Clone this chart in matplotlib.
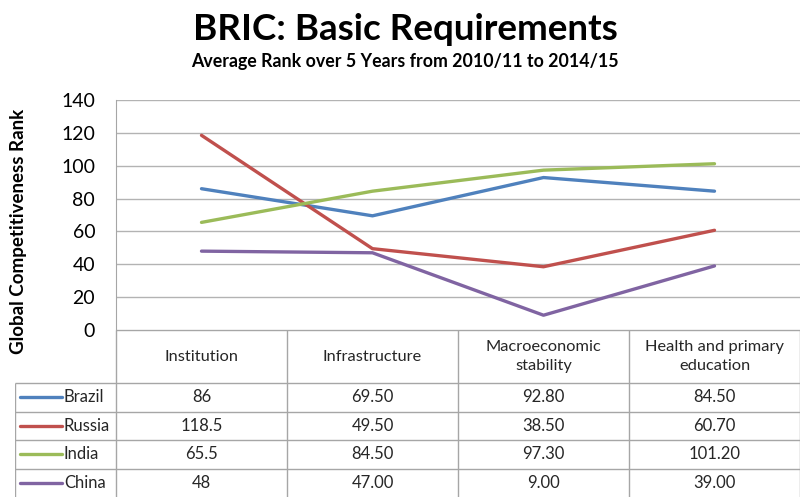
import matplotlib.pyplot as plt

plt.rcParams['font.family'] = ['Lato', 'DejaVu Sans']

# Data
categories = ['Institution', 'Infrastructure', 'Macroeconomic\nstability', 'Health and primary\neducation']
countries = ['Brazil', 'Russia', 'India', 'China']
brazil = [86, 69.5, 92.8, 84.5]
russia = [118.5, 49.5, 38.5, 60.7]
india = [65.5, 84.5, 97.3, 101.2]
china = [48, 47.0, 9.0, 39.0]
table_text = [
    ['86', '69.50', '92.80', '84.50'],
    ['118.5', '49.50', '38.50', '60.70'],
    ['65.5', '84.50', '97.30', '101.20'],
    ['48', '47.00', '9.00', '39.00'],
]
colors = ['#4F81BD', '#C0504D', '#9BBB59', '#8064A2']
yticks = [0, 20, 40, 60, 80, 100, 120, 140]

W, H = 810, 497
fig = plt.figure(figsize=(W / 100, H / 100), dpi=100)

# chart area (pixel layout from the reference)
left, right, top, bottom = 116, 800, 100, 330
ax = fig.add_axes([left / W, 1 - bottom / H, (right - left) / W, (bottom - top) / H])
xs = range(len(categories))
for series, c in zip([brazil, russia, india, china], colors):
    ax.plot(xs, series, color=c, lw=2.4, solid_capstyle='round')
ax.set_xlim(-0.5, len(categories) - 0.5)
ax.set_ylim(0, 140)
ax.set_yticks(yticks)
ax.set_xticks([])
ax.tick_params(axis='y', length=0, pad=15, labelsize=14)
ax.grid(axis='y', color='#b3b3b3', lw=1)
ax.set_axisbelow(True)
for s in ['top', 'right', 'bottom']:
    ax.spines[s].set_visible(False)
ax.spines['left'].set_color('#a6a6a6')

fig.text(19 / W, 1 - 231 / H, 'Global Competitiveness Rank', rotation=90,
         ha='center', va='center', fontsize=13.5, fontweight='bold')
fig.text(0.5, 1 - 29 / H, 'BRIC: Basic Requirements', ha='center', va='center',
         fontsize=26.5, fontweight='bold')
fig.text(0.5, 1 - 61 / H, 'Average Rank over 5 Years from 2010/11 to 2014/15',
         ha='center', va='center', fontsize=12.8, fontweight='bold')

# data table below the chart
col_w = (right - left) / len(categories)
leg_left = 15
tax = fig.add_axes([leg_left / W, 0, (right - leg_left) / W, (H - bottom) / H])
x0 = -0.5 - (left - leg_left) / col_w
hdr = 1.86
n = len(countries)
tax.set_xlim(x0, len(categories) - 0.5)
tax.set_ylim(0, n + hdr)
tax.axis('off')
lc = '#a6a6a6'

def px(p):
    return -0.5 + (p - left) / col_w

tax.hlines(n + hdr, -0.5, len(categories) - 0.5, color=lc, lw=1)
for i in range(n + 1):
    y = n - i
    if y > 0:
        tax.hlines(y, x0, len(categories) - 0.5, color=lc, lw=1)
for j in range(len(categories) + 1):
    tax.vlines(j - 0.5, 0, n + hdr, color=lc, lw=1)
tax.vlines(x0, 0, n, color=lc, lw=1)

for j, cat in enumerate(categories):
    tax.text(j, n + hdr / 2, cat, ha='center', va='center', fontsize=11.8,
             linespacing=1.4, color='#262626')
for i, (name, c) in enumerate(zip(countries, colors)):
    y = n - i - 0.5
    tax.plot([px(20), px(62)], [y, y], color=c, lw=2.4, solid_capstyle='round')
    tax.text(px(64), y, name, ha='left', va='center', fontsize=12, color='#262626')
    for j, val in enumerate(table_text[i]):
        tax.text(j, y, val, ha='center', va='center', fontsize=12, color='#262626')

fig.savefig('out.png', dpi=100)
